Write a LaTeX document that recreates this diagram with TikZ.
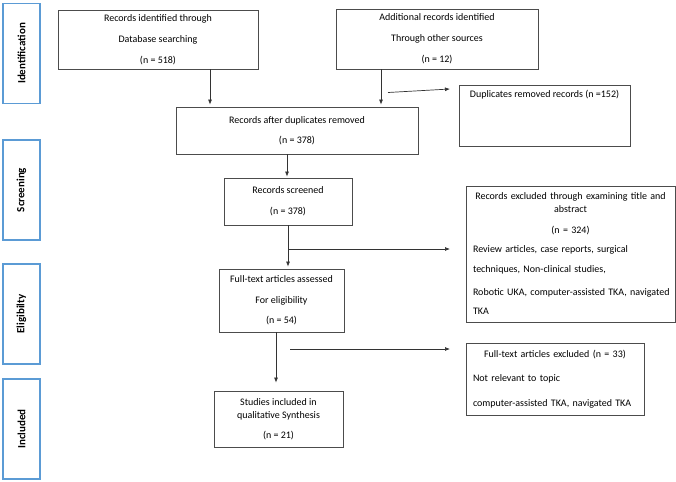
\documentclass[tikz,border=0pt]{standalone}
\usepackage{fontspec}
\setmainfont{Carlito}
\usetikzlibrary{arrows.meta,calc}

\definecolor{stageblue}{RGB}{91,155,213}
\newcommand{\boxfont}{\fontsize{10}{13}\selectfont\hyphenpenalty=10000}

\tikzset{
  box/.style={rectangle,draw=black!70,line width=0.8pt,inner sep=0pt,align=center,font=\boxfont},
  stage/.style={rectangle,draw=stageblue,line width=1.2pt,minimum width=37,minimum height=100,inner sep=0pt},
  arr/.style={->,draw=black!80,line width=0.7pt}
}

\begin{document}
\begin{tikzpicture}[x=1pt,y=-1pt,>={Latex[length=5pt,width=4pt]}]

  \useasboundingbox (0,0) rectangle (676,481);

  % stages on the left
  \foreach \i/\y/\t in {1/53.5/Identification,2/190/Screening,3/314/Eligibilty,4/429/Included}
  {
    \node (s\i) at (21.5,\y) [stage] {};
    \node (t\i) at (s\i) [rotate=90,font=\fontsize{11}{13}\selectfont\bfseries] {\t};
  }

  % boxes
  \node (A) at (158,39.5) [box,minimum width=200,minimum height=59]
    {Records identified through\\[8pt]Database searching\\[8pt](n = 518)};
  \node (B) at (437,39) [box,minimum width=202,minimum height=60]
    {Additional records identified\\[8pt]Through other sources\\[8pt](n = 12)};
  \node (C) at (297,130.5) [box,minimum width=242,minimum height=47]
    {Records after duplicates removed\\[7pt](n = 378)};
  \node (D) at (544.5,115.5) [box,minimum width=171,minimum height=61] {};
  \node (Dt) at (544.5,95) [font=\boxfont] {Duplicates removed records (n =152)};
  \node (E) at (288,201.5) [box,minimum width=128,minimum height=47]
    {Records screened\\[8pt](n = 378)};
  \node (F) at (281.5,300.5) [box,minimum width=125,minimum height=63]
    {Full-text articles assessed\\[8pt]For eligibility\\[7pt](n = 54)};
  \node (G) at (570.5,254) [box,align=left,minimum width=209,minimum height=136,inner xsep=7pt,text width=195]
    {{\centering\mbox{Records excluded through examining title and}\\abstract\\[8pt](n = 324)\par}
     \vspace{6pt}Review articles, case reports, surgical\\[7pt]
     techniques, Non-clinical studies,\\[10pt]
     \mbox{Robotic UKA, computer-assisted TKA, navigated}\\[6pt]TKA};
  \node (H) at (555,379) [box,align=left,minimum width=178,minimum height=72,inner xsep=7pt,text width=164]
    {{\centering Full-text articles excluded (n = 33)\par}
     \vspace{11pt}Not relevant to topic\\[12pt]
     \mbox{computer-assisted TKA, navigated TKA}};
  \node (I) at (278.5,419) [box,minimum width=129,minimum height=56]
    {Studies included in\\qualitative Synthesis\\[7pt](n = 21)};

  % arrows
  \coordinate (colA) at (210,0);
  \coordinate (colB) at (381,0);
  \coordinate (colE) at (287,0);
  \coordinate (colF) at (276,0);
  \draw [arr,shorten >=2pt] (A.south -| colA) -- (C.north -| colA);
  \draw [arr,shorten >=2pt] (B.south -| colB) -- (C.north -| colB);
  \draw [arr,shorten >=1pt] (C.south -| colE) -- (E.north -| colE);
  \draw [arr,shorten >=2pt] (E.south) -- (E.south |- F.north);
  \draw [arr,shorten >=8pt] (F.south -| colF) -- (I.north -| colF);

  \coordinate (d1) at (388,92.5);
  \coordinate (d2) at (450,89);
  \draw [arr] (d1) -- (d2);

  \coordinate (g1) at (288,249);
  \coordinate (g2) at (450,249);
  \draw [arr] (g1) -- (g2);

  \coordinate (h1) at (290,349);
  \coordinate (h2) at (450,349);
  \draw [arr] (h1) -- (h2);

\end{tikzpicture}
\end{document}
